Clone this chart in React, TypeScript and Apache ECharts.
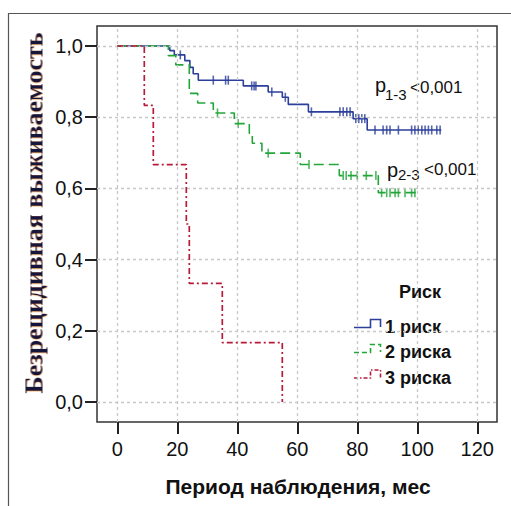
import React, { useEffect, useRef } from "react";
import * as echarts from "echarts";

// ---- data ----
const xTicks = [0, 20, 40, 60, 80, 100, 120];
const yTicks = [0, 0.2, 0.4, 0.6, 0.8, 1.0];

const riskOneSteps: number[][] = [
  [0, 1], [17.5, 0.987], [19, 0.975], [22.5, 0.959], [24.2, 0.94], [25.3, 0.922], [27, 0.904],
  [42, 0.888], [50.3, 0.871], [55, 0.856], [57, 0.836], [63.7, 0.815], [78.6, 0.796],
  [83.3, 0.764], [108, 0.764],
];
const riskOneCensored: number[][] = [
  [21, 0.975], [32, 0.904], [36.1, 0.904], [37, 0.904], [44.8, 0.888], [45.6, 0.888], [46.2, 0.888],
  [51.5, 0.871], [56, 0.856], [64.7, 0.815], [74.2, 0.815], [75.3, 0.815], [76.5, 0.815], [77.6, 0.815],
  [79.5, 0.796], [80.5, 0.796], [81.5, 0.796], [82.5, 0.796],
  [85.9, 0.764], [88.6, 0.764], [89.8, 0.764], [90.9, 0.764], [93.7, 0.764], [98.1, 0.764],
  [99.2, 0.764], [100.3, 0.764], [101.5, 0.764], [102.6, 0.764], [103.7, 0.764], [104.8, 0.764],
  [106.5, 0.764], [107.6, 0.764],
];

const riskTwoSteps: number[][] = [
  [0, 1], [17, 0.973], [19.5, 0.947], [24, 0.867], [26.8, 0.84], [32, 0.812], [39, 0.782],
  [44, 0.755], [45, 0.727], [48.2, 0.699], [61, 0.667], [74, 0.636], [87, 0.588], [99.5, 0.588],
];
const riskTwoCensored: number[][] = [
  [33.4, 0.812], [40.3, 0.782], [50.3, 0.699], [63.9, 0.667],
  [75.3, 0.636], [76.3, 0.636], [77.9, 0.636], [80, 0.636], [83, 0.636], [86.2, 0.636],
  [88.1, 0.588], [89.8, 0.588], [90.9, 0.588], [92.6, 0.588], [93.7, 0.588], [95.9, 0.588],
  [98.1, 0.588], [99.2, 0.588],
];

const riskThreeSteps: number[][] = [
  [0, 1], [9, 0.833], [12, 0.667], [23, 0.5], [24, 0.333], [35, 0.167], [55, 0],
];

const legendTitle = "Риск";
const legendNames = ["1 риск", "2 риска", "3 риска"];
const xTitle = "Период наблюдения, мес";
const yTitle = "Безрецидивная выживаемость";

const BLUE = "#2c3f9a";
const GREEN = "#22a63a";
const RED = "#b81b3a";
const SANS = "'Liberation Sans', Arial, sans-serif";
const SERIF = "'Liberation Serif', 'Times New Roman', serif";

export default function App() {
  const ref = useRef<HTMLDivElement>(null);
  useEffect(() => {
    if (!ref.current) return;
    const chart = echarts.init(ref.current, null, { renderer: "svg" });
    const legendColors = [BLUE, GREEN, RED];
    const legendDash: any[] = ["solid", [5, 3], [4, 2, 1.5, 2]];
    const legendY = [327, 352, 377.5];
    const legendGraphics: any[] = [];
    legendY.forEach((cy, i) => {
      legendGraphics.push({
        type: "polyline",
        silent: true,
        shape: { points: [[354, cy + 0.5], [370.5, cy + 0.5], [370.5, cy - 7.5], [380.5, cy - 7.5], [380.5, cy]] },
        style: { stroke: legendColors[i], lineWidth: 1.6, fill: null, lineDash: legendDash[i] === "solid" ? null : legendDash[i] },
      });
      legendGraphics.push({
        type: "text",
        x: 385,
        y: cy,
        style: {
          text: legendNames[i], fill: "#111", font: `bold 18px ${SANS}`,
          textAlign: "left", textVerticalAlign: "middle", verticalAlign: "middle",
        },
      });
    });

    const txt = (text: string, x: number, y: number, font: string, align = "left", extra: any = {}) => ({
      type: "text",
      x,
      y,
      silent: true,
      ...extra,
      style: { text, fill: "#111", font, textAlign: align, textVerticalAlign: "middle", verticalAlign: "middle", ...(extra.style || {}) },
    });

    chart.setOption({
      animation: false,
      backgroundColor: "#fff",
      grid: {
        left: 97, top: 26, width: 400, height: 396,
        show: true, borderColor: "#333", borderWidth: 1.5, backgroundColor: "transparent",
      },
      xAxis: {
        type: "value",
        min: -6.767,
        max: 126.567,
        position: "bottom",
        axisLine: { show: false, onZero: false },
        splitLine: { show: false },
        axisTick: { show: true, customValues: xTicks, length: 12, inside: false, lineStyle: { color: "#222", width: 2 } },
        axisLabel: { customValues: xTicks, margin: 17, color: "#111", fontSize: 20, fontFamily: SANS },
      },
      yAxis: {
        type: "value",
        min: -0.0562,
        max: 1.0562,
        position: "left",
        axisLine: { show: false, onZero: false },
        splitLine: { show: false },
        axisTick: { show: true, customValues: yTicks, length: 12, inside: false, lineStyle: { color: "#222", width: 2 } },
        axisLabel: {
          customValues: yTicks, margin: 14, color: "#111", fontSize: 20, fontFamily: SANS,
          formatter: (v: number) => v.toFixed(1).replace(".", ","),
        },
      },
      series: [
        {
          type: "line",
          name: "grid",
          data: [[0, 0]],
          showSymbol: false,
          silent: true,
          lineStyle: { opacity: 0 },
          z: 1,
          markLine: {
            silent: true,
            symbol: ["none", "none"],
            label: { show: false },
            lineStyle: { color: "#c8c8c8", type: [3, 3], width: 1.3 },
            data: [
              ...xTicks.map((v) => ({ xAxis: v })),
              ...yTicks.map((v) => ({ yAxis: v })),
            ],
          },
        },
        {
          type: "line", name: legendNames[0], step: "end", data: riskOneSteps, showSymbol: false,
          lineStyle: { color: BLUE, width: 1.6, type: "solid" }, z: 3,
        },
        {
          type: "scatter", name: legendNames[0] + " c", data: riskOneCensored, symbol: "rect",
          symbolSize: [1.6, 9], itemStyle: { color: BLUE }, z: 3,
        },
        {
          type: "line", name: legendNames[1], step: "end", data: riskTwoSteps, showSymbol: false,
          lineStyle: { color: GREEN, width: 1.6, type: [10, 5] }, z: 4,
        },
        {
          type: "scatter", name: legendNames[1] + " c", data: riskTwoCensored, symbol: "rect",
          symbolSize: [1.6, 9], itemStyle: { color: GREEN }, z: 4,
        },
        {
          type: "line", name: legendNames[2], step: "end", data: riskThreeSteps, showSymbol: false,
          lineStyle: { color: RED, width: 1.7, type: [6, 3, 2, 3] }, z: 5,
        },
      ],
      graphic: [
        {
          type: "rect", silent: true,
          shape: { x: 8.5, y: 13.5, width: 530, height: 530 },
          style: { stroke: "#555", lineWidth: 1.2, fill: null },
        },
        txt(yTitle, 33.5, 213, `bold 26px ${SERIF}`, "center", {
          rotation: Math.PI / 2,
          style: { fill: "#14123a", textShadowColor: "rgba(230,140,30,0.7)", textShadowBlur: 1.5, textShadowOffsetX: -0.5 },
        }),
        txt(xTitle, 298, 486, `bold 21px ${SANS}`, "center"),
        txt("p", 375, 85.2, `20px ${SANS}`),
        txt("1-3", 385, 94.4, `15px ${SANS}`),
        txt("<0,001", 410, 87.6, `17px ${SANS}`),
        txt("p", 387, 170.2, `20px ${SANS}`),
        txt("2-3", 398, 174.8, `15px ${SANS}`),
        txt("<0,001", 424, 169.1, `17px ${SANS}`),
        txt(legendTitle, 420, 291.7, `bold 18px ${SANS}`, "center"),
        ...legendGraphics,
      ],
    });
    return () => chart.dispose();
  }, []);
  return <div ref={ref} style={{ position: "absolute", left: 0, top: 0, width: 511, height: 506 }} />;
}
